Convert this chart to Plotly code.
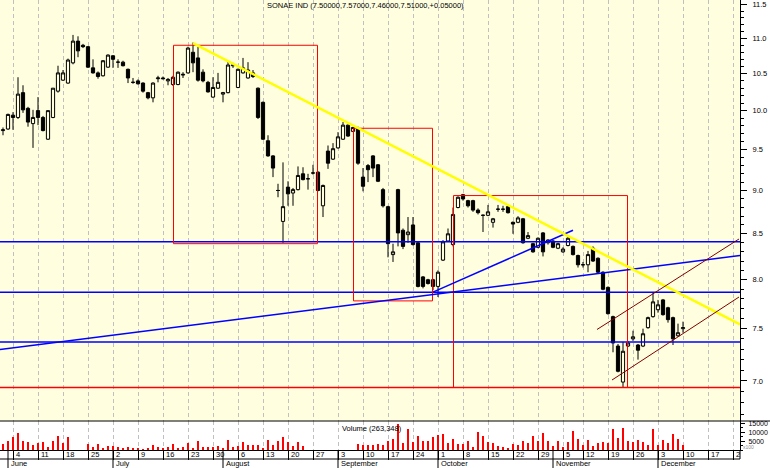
import math
import pandas as pd
import plotly.graph_objects as go

# ---------------- data ----------------
ticker = "SONAE IND"

opens = [9.74, 9.76, 9.94, 9.91, 10.24, 10.03, 9.83, 10.00, 9.91, 9.63,
         9.91, 10.26, 10.41, 10.37, 10.65, 10.96, 10.90, 10.88, 10.58, 10.51,
         10.47, 10.59, 10.75, 10.66, 10.66, 10.56, 10.38, 10.40, 10.37, 10.24,
         10.17, 10.43, 10.44, 10.40, 10.35, 10.35, 10.48, 10.51, 10.80, 10.72,
         10.52, 10.38, 10.18, 10.30, 10.22, 10.24, 10.61, 10.31, 10.51, 10.44,
         10.51, 10.30, 10.11, 9.61, 9.42, 9.00, 8.64, 9.04, 8.97, 9.01,
         9.20, 9.14, 9.21, 9.22, 8.82, 9.48, 9.38, 9.52, 9.63, 9.81,
         9.73, 9.76, 9.16, 9.30, 9.42, 9.31, 9.01, 8.81, 8.27, 9.01,
         8.54, 8.49, 8.60, 8.40, 8.03, 8.00, 8.00, 7.93, 8.21, 8.42,
         8.38, 8.80, 8.95, 8.88, 8.88, 8.77, 8.71, 8.71, 8.63, 8.78,
         8.78, 8.81, 8.63, 8.63, 8.67, 8.45, 8.39, 8.35, 8.51, 8.40,
         8.42, 8.34, 8.30, 8.37, 8.36, 8.26, 8.16, 8.16, 8.34, 8.23,
         8.08, 7.92, 7.62, 7.33, 6.99, 7.33, 7.40, 7.34, 7.33, 7.51,
         7.62, 7.69, 7.79, 7.71, 7.61, 7.43, 7.50]

highs = [9.78, 9.96, 9.98, 10.45, 10.34, 10.05, 10.01, 10.18, 9.93, 10.00,
         10.30, 10.61, 10.55, 10.71, 11.05, 11.03, 10.92, 10.89, 10.70, 10.53,
         10.69, 10.77, 10.76, 10.70, 10.68, 10.57, 10.44, 10.42, 10.38, 10.25,
         10.38, 10.47, 10.46, 10.44, 10.47, 10.53, 10.52, 10.88, 10.94, 10.88,
         10.56, 10.40, 10.45, 10.51, 10.25, 10.67, 10.65, 10.57, 10.72, 10.66,
         10.55, 10.31, 10.12, 9.68, 9.43, 9.08, 9.34, 9.11, 9.03, 9.29,
         9.28, 9.20, 9.31, 9.23, 9.07, 9.55, 9.58, 9.72, 9.85, 9.82,
         9.79, 9.79, 9.27, 9.32, 9.43, 9.32, 9.03, 8.82, 8.39, 9.02,
         8.56, 8.69, 8.69, 8.41, 8.04, 8.01, 8.01, 8.10, 8.43, 8.56,
         8.80, 8.93, 8.96, 8.89, 8.89, 8.79, 8.72, 8.83, 8.68, 8.83,
         8.82, 8.82, 8.64, 8.70, 8.68, 8.52, 8.40, 8.46, 8.52, 8.44,
         8.43, 8.40, 8.35, 8.47, 8.37, 8.27, 8.19, 8.31, 8.36, 8.24,
         8.09, 7.93, 7.63, 7.35, 7.37, 7.38, 7.48, 7.35, 7.50, 7.62,
         7.87, 7.79, 7.80, 7.72, 7.62, 7.55, 7.57]

lows = [9.68, 9.75, 9.75, 9.89, 9.97, 9.79, 9.52, 9.81, 9.73, 9.62,
        9.90, 10.24, 10.40, 10.36, 10.63, 10.73, 10.86, 10.58, 10.50, 10.43,
        10.46, 10.58, 10.58, 10.58, 10.60, 10.37, 10.36, 10.35, 10.24, 10.15,
        10.11, 10.38, 10.42, 10.34, 10.33, 10.34, 10.44, 10.50, 10.52, 10.39,
        10.38, 10.24, 10.17, 10.29, 10.11, 10.23, 10.58, 10.30, 10.50, 10.43,
        10.44, 9.89, 9.62, 9.41, 9.16, 8.92, 8.40, 8.82, 8.82, 9.00,
        9.12, 9.01, 9.19, 8.99, 8.69, 9.26, 9.37, 9.51, 9.62, 9.66,
        9.72, 9.31, 8.99, 9.10, 9.16, 9.10, 8.80, 8.24, 8.19, 8.36,
        8.33, 8.40, 8.37, 7.92, 7.91, 7.95, 7.89, 7.82, 8.20, 8.41,
        8.36, 8.79, 8.88, 8.80, 8.75, 8.72, 8.52, 8.70, 8.57, 8.75,
        8.75, 8.73, 8.50, 8.62, 8.39, 8.44, 8.29, 8.34, 8.25, 8.38,
        8.34, 8.33, 8.29, 8.36, 8.26, 8.13, 8.13, 8.08, 8.19, 8.07,
        7.89, 7.64, 7.27, 7.08, 6.94, 7.32, 7.38, 7.20, 7.32, 7.50,
        7.61, 7.66, 7.63, 7.56, 7.34, 7.42, 7.46]

closes = [9.75, 9.95, 9.91, 10.22, 10.01, 9.85, 9.91, 9.91, 9.74, 10.00,
          10.30, 10.51, 10.51, 10.69, 10.96, 10.82, 10.88, 10.59, 10.51, 10.46,
          10.68, 10.76, 10.70, 10.66, 10.61, 10.44, 10.38, 10.36, 10.26, 10.17,
          10.37, 10.44, 10.43, 10.42, 10.45, 10.52, 10.49, 10.86, 10.65, 10.41,
          10.40, 10.25, 10.31, 10.38, 10.24, 10.62, 10.62, 10.56, 10.58, 10.55,
          10.46, 9.91, 9.63, 9.42, 9.27, 9.00, 8.81, 8.96, 9.01, 9.18,
          9.13, 9.14, 9.21, 9.00, 9.06, 9.33, 9.51, 9.66, 9.81, 9.67,
          9.78, 9.33, 9.05, 9.25, 9.27, 9.11, 8.82, 8.39, 8.30, 8.51,
          8.36, 8.52, 8.38, 7.93, 7.93, 7.96, 7.93, 8.08, 8.41, 8.50,
          8.72, 8.92, 8.90, 8.82, 8.77, 8.74, 8.71, 8.75, 8.67, 8.78,
          8.78, 8.74, 8.61, 8.68, 8.40, 8.48, 8.30, 8.45, 8.30, 8.43,
          8.35, 8.39, 8.33, 8.45, 8.27, 8.16, 8.16, 8.27, 8.20, 8.08,
          7.90, 7.65, 7.36, 7.09, 7.28, 7.36, 7.42, 7.29, 7.45, 7.61,
          7.77, 7.74, 7.64, 7.59, 7.40, 7.46, 7.51]

volumes = [340000, 528000, 755000, 981000, 528000, 453000, 302000, 415000, 453000, 151000,
           491000, 792000, 415000, 755000, 0, 0, 0, 340000, 151000, 340000,
           75000, 226000, 226000, 151000, 75000, 189000, 113000, 75000, 38000, 75000,
           264000, 151000, 94000, 151000, 340000, 113000, 189000, 377000, 113000, 528000,
           189000, 151000, 189000, 226000, 113000, 566000, 189000, 226000, 453000, 302000,
           302000, 302000, 113000, 566000, 302000, 491000, 755000, 453000, 226000, 453000,
           226000, 0, 0, 0, 0, 0, 0, 0, 0, 0,
           0, 340000, 264000, 302000, 302000, 340000, 283000, 528000, 604000, 1472000,
           415000, 1170000, 453000, 792000, 528000, 528000, 717000, 849000, 906000, 415000,
           604000, 340000, 340000, 528000, 189000, 1019000, 792000, 453000, 377000, 226000,
           151000, 75000, 340000, 302000, 491000, 377000, 792000, 528000, 981000, 528000,
           226000, 491000, 151000, 453000, 1075000, 604000, 283000, 566000, 226000, 415000,
           453000, 415000, 1170000, 698000, 1264000, 491000, 453000, 566000, 453000, 264000,
           1189000, 283000, 566000, 377000, 906000, 604000, 263348]

# trading calendar (one session missing in the week of 5 November)
axis_days = pd.bdate_range("2007-05-31", "2007-12-31")
axis_days = axis_days[axis_days != pd.Timestamp("2007-11-09")]
month_names = ["January", "February", "March", "April", "May", "June", "July",
               "August", "September", "October", "November", "December"]

# chart drawings (trading-session position, price)
support_levels = [8.41, 7.87, 7.37]
floor_level = 6.94
boxes = [(34.1, 62.9, 8.39, 10.90), (70.1, 85.9, 7.78, 9.77), (90.1, 124.9, 6.94, 8.94)]
blue_trend = [(-0.6, 7.297), (147.4, 8.260)]
blue_fan = [(86.0, 7.87), (114.0, 8.54)]
yellow_trend = [(38.0, 10.93), (147.4, 7.542)]
channel_upper = [(118.8, 7.492), (147.2, 8.442)]
channel_lower = [(121.8, 7.009), (147.2, 7.820)]

price_ticks = [7.0, 7.5, 8.0, 8.5, 9.0, 9.5, 10.0, 10.5, 11.0, 11.5]
volume_ticks = [5000, 10000, 15000]

# ---------------- figure ----------------
BG = "#FFFFE0"
FONT = "Liberation Sans"
X_MIN, X_MAX = -0.6, 147.4
P_MIN, P_MAX = 6.640, 11.571
VOL_FRAC = 29 / 450.0

n = len(closes)
x = list(range(n))
mondays = [k for k, d in enumerate(axis_days) if d.weekday() == 0 and k <= X_MAX]
month_starts = [k for k in range(1, len(axis_days))
                if axis_days[k].month != axis_days[k - 1].month and k <= X_MAX]

fig = go.Figure()

fig.add_trace(go.Candlestick(
    x=x, open=opens, high=highs, low=lows, close=closes,
    increasing=dict(line=dict(color="black", width=1), fillcolor=BG),
    decreasing=dict(line=dict(color="black", width=1), fillcolor="black"),
    whiskerwidth=0, hoverinfo="skip", showlegend=False, xaxis="x", yaxis="y"))


def seg(points, color, width):
    fig.add_trace(go.Scatter(x=[p[0] for p in points], y=[p[1] for p in points],
                             mode="lines", line=dict(color=color, width=width),
                             hoverinfo="skip", showlegend=False, xaxis="x", yaxis="y"))


for lvl in support_levels:
    seg([(X_MIN, lvl), (X_MAX, lvl)], "#0000FF", 1.5)
seg([(X_MIN, floor_level), (X_MAX, floor_level)], "#FF0000", 1.5)
for (x0, x1, p0, p1) in boxes:
    seg([(x0, p0), (x1, p0), (x1, p1), (x0, p1), (x0, p0)], "#FF0000", 1)
seg(blue_trend, "#0000FF", 1.5)
seg(blue_fan, "#0000FF", 1.5)
seg(yellow_trend, "#FFFF00", 2.5)
seg(channel_upper, "#800000", 1)
seg(channel_lower, "#800000", 1)

fig.add_trace(go.Bar(x=x, y=[v / 100 for v in volumes], width=0.25,
                     marker=dict(color="#FF0000", line=dict(width=0)),
                     hoverinfo="skip", showlegend=False, xaxis="x2", yaxis="y2"))

minor_prices = [round(6.7 + 0.1 * i, 1) for i in range(49)]
minor_prices = [p for p in minor_prices if p not in price_ticks]

fig.update_layout(
    width=770, height=468,
    margin=dict(l=0, r=30, t=0, b=18),
    paper_bgcolor="white", plot_bgcolor="white",
    showlegend=False, hovermode=False,
    boxgap=0.2, boxgroupgap=0.2, bargap=0,
    font=dict(family=FONT, size=8, color="black"),
    xaxis=dict(domain=[0, 1], range=[X_MIN, X_MAX], anchor="y",
               tickvals=mondays, showticklabels=False, ticks="",
               showgrid=True, gridcolor="#C0C0C0", griddash="4px,3px", gridwidth=1,
               zeroline=False, showline=False, rangeslider=dict(visible=False)),
    yaxis=dict(domain=[VOL_FRAC, 1], type="log",
               range=[math.log10(P_MIN), math.log10(P_MAX)], anchor="x", side="right",
               tickvals=price_ticks, ticktext=[f"{p:.1f}" for p in price_ticks],
               ticks="outside", ticklen=6, tickcolor="black", tickwidth=1,
               ticklabelstandoff=4, tickfont=dict(size=7.5, family=FONT),
               minor=dict(tickvals=minor_prices, ticks="outside", ticklen=3,
                          tickcolor="black", showgrid=False),
               showgrid=False, zeroline=False, showline=True, linecolor="black", linewidth=1),
    xaxis2=dict(domain=[0, 1], matches="x", anchor="y2",
                tickvals=mondays, showticklabels=False, ticks="outside", ticklen=9,
                tickcolor="black", tickwidth=1,
                showgrid=True, gridcolor="#C0C0C0", griddash="4px,3px", gridwidth=1,
                zeroline=False, showline=True, linecolor="black", linewidth=1),
    yaxis2=dict(domain=[0, VOL_FRAC], range=[0, 16415], anchor="x2", side="right",
                tickvals=volume_ticks, ticktext=[str(v) for v in volume_ticks],
                ticks="outside", ticklen=4, tickcolor="black",
                ticklabelstandoff=2, tickfont=dict(size=7, family=FONT),
                minor=dict(dtick=2500, ticks="outside", ticklen=2, tickcolor="black"),
                showgrid=False, zeroline=False, showline=True, linecolor="black", linewidth=1),
)

shapes = [
    dict(type="rect", xref="x domain", yref="y domain", x0=0, x1=1, y0=0, y1=1,
         fillcolor=BG, line=dict(width=0), layer="below"),
    dict(type="line", xref="paper", yref="paper", x0=0, x1=770 / 740, y0=VOL_FRAC, y1=VOL_FRAC,
         line=dict(color="black", width=1)),
    dict(type="line", xref="paper", yref="paper", x0=0, x1=1, y0=-9 / 450, y1=-9 / 450,
         line=dict(color="black", width=1)),
    dict(type="line", xref="paper", yref="paper", x0=1, x1=1, y0=0, y1=-9 / 450,
         line=dict(color="black", width=1)),
]
for k in month_starts:
    shapes.append(dict(type="line", xref="x2", yref="paper", x0=k, x1=k, y0=0, y1=-18 / 450,
                       line=dict(color="black", width=1)))
fig.update_layout(shapes=shapes)

ann = []
last_change = closes[-1] - closes[-2]
title = f"{ticker} ({opens[-1]:.5f},{highs[-1]:.5f},{lows[-1]:.5f},{closes[-1]:.5f},{last_change:+.5f})"
ann.append(dict(text=title, xref="paper", yref="paper", x=365 / 740, y=1 - 6 / 450,
                xanchor="center", yanchor="middle", showarrow=False,
                font=dict(size=7.5, family=FONT, color="black")))
ann.append(dict(text=f"Volume ({volumes[-1]:,})", xref="paper", yref="paper",
                x=340 / 740, y=22 / 450, xanchor="left", yanchor="middle", showarrow=False,
                font=dict(size=7.5, family=FONT, color="black")))
ann.append(dict(text="x100", xref="paper", yref="paper", x=741 / 740, y=3 / 450,
                xanchor="left", yanchor="middle", showarrow=False,
                font=dict(size=5, family=FONT, color="#909090")))
for k in mondays:
    label = str(axis_days[k].day)
    if k > X_MAX - 2:
        label = label[:1]  # clipped at the right edge
    ann.append(dict(text=label, xref="x2", yref="paper", x=k, y=-4.5 / 450,
                    xanchor="left", yanchor="middle", xshift=1, showarrow=False,
                    font=dict(size=7.5, family=FONT, color="black")))
for k in month_starts:
    ann.append(dict(text=month_names[axis_days[k].month - 1], xref="x2", yref="paper",
                    x=k, y=-13.5 / 450, xanchor="left", yanchor="middle", xshift=1,
                    showarrow=False, font=dict(size=7.5, family=FONT, color="black")))
fig.update_layout(annotations=ann)

fig.write_html("out.html", config={"displayModeBar": False},
               post_script="document.body.style.margin='0px';document.body.style.padding='0px';")
